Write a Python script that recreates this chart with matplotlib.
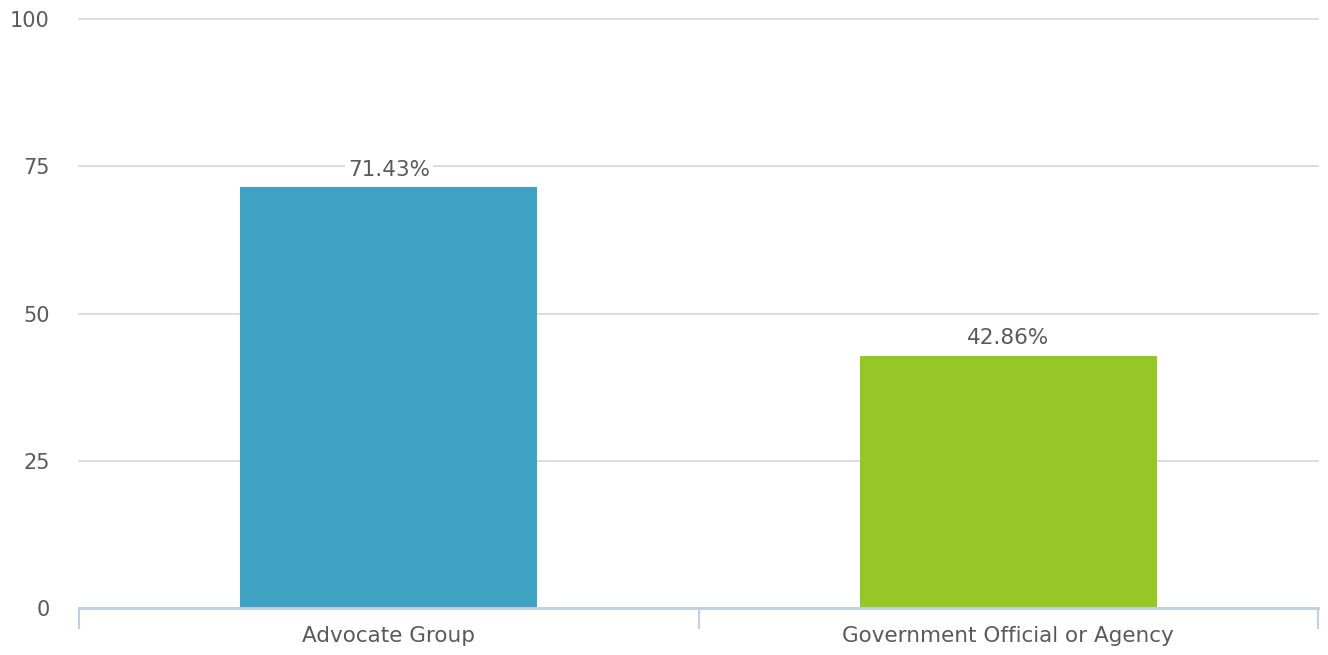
import matplotlib
matplotlib.use("Agg")
import matplotlib.pyplot as plt

categories = ["Advocate Group", "Government Official or Agency"]
values = [71.43, 42.86]
colors = ["#40a2c3", "#95c826"]
yticks = [0, 25, 50, 75, 100]

fig = plt.figure(figsize=(13.28, 6.55), dpi=100)
ax = fig.add_axes([79 / 1328, 47 / 655, 1239 / 1328, 589 / 655])

x = list(range(len(categories)))
ax.bar(x, values, width=0.48, color=colors, zorder=2)

for xi, v in zip(x, values):
    ax.text(xi, v + 1.3, f"{v:.2f}%", ha="center", va="bottom",
            fontsize=15.5, color="#5a5a5a", zorder=3,
            bbox=dict(facecolor="white", edgecolor="none", pad=2))

ax.set_xlim(-0.5, len(categories) - 0.5)
ax.set_ylim(0, 100)
ax.set_yticks(yticks)
ax.set_yticklabels([str(t) for t in yticks])
ax.yaxis.grid(True, color="#d8dade", linewidth=1.3, zorder=0)
for gl in ax.get_ygridlines():
    gl.set_clip_on(False)
ax.tick_params(axis="y", length=0, labelsize=15, labelcolor="#5a5a5a", pad=21)

# category labels sit between the boundary ticks
ax.set_xticks(x)
ax.set_xticklabels(categories)
ax.tick_params(axis="x", length=0, labelsize=15.5, labelcolor="#5a5a5a", pad=13)
ax.set_xticks([-0.5, 0.5, 1.5], minor=True)
ax.tick_params(axis="x", which="minor", length=15, width=1.5, color="#c0d0e3")

for side in ["top", "right", "left"]:
    ax.spines[side].set_visible(False)
ax.spines["bottom"].set_color("#c0d0e3")
ax.spines["bottom"].set_linewidth(2)

fig.savefig("out.png", dpi=100)
